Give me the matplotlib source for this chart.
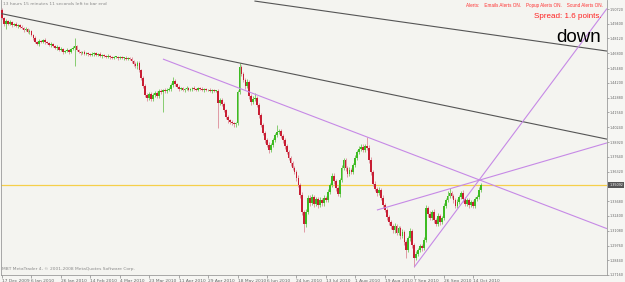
import numpy as np
import matplotlib
matplotlib.use("Agg")
import matplotlib.pyplot as plt
import matplotlib.transforms as mtransforms

# daily closes (bar 0 = 17 Dec 2009)
first_open = 1.5063
closes = [
    1.4992, 1.4939, 1.4966, 1.4939, 1.4957, 1.4930, 1.4939, 1.4922, 1.4930, 1.4913,
    1.4904, 1.4886, 1.4895, 1.4868, 1.4877, 1.4842, 1.4815, 1.4780, 1.4762, 1.4789,
    1.4780, 1.4798, 1.4780, 1.4771, 1.4753, 1.4762, 1.4744, 1.4727, 1.4735, 1.4709,
    1.4718, 1.4691, 1.4700, 1.4709, 1.4691, 1.4718, 1.4727, 1.4744, 1.4709, 1.4691,
    1.4683, 1.4691, 1.4674, 1.4683, 1.4674, 1.4665, 1.4674, 1.4683, 1.4665, 1.4674,
    1.4656, 1.4665, 1.4656, 1.4647, 1.4656, 1.4647, 1.4638, 1.4647, 1.4647, 1.4638,
    1.4647, 1.4638, 1.4638, 1.4629, 1.4638, 1.4629, 1.4611, 1.4585, 1.4567, 1.4594,
    1.4532, 1.4461, 1.4390, 1.4310, 1.4284, 1.4319, 1.4275, 1.4310, 1.4328, 1.4301,
    1.4346, 1.4337, 1.4354, 1.4346, 1.4354, 1.4363, 1.4399, 1.4434, 1.4408, 1.4381,
    1.4363, 1.4372, 1.4354, 1.4363, 1.4372, 1.4354, 1.4363, 1.4372, 1.4363, 1.4354,
    1.4372, 1.4363, 1.4354, 1.4363, 1.4354, 1.4354, 1.4346, 1.4354, 1.4346, 1.4346,
    1.4239, 1.4266, 1.4231, 1.4177, 1.4116, 1.4089, 1.4071, 1.4062, 1.4053, 1.4062,
    1.4337, 1.4558, 1.4497, 1.4443, 1.4390, 1.4425, 1.4301, 1.4248, 1.4275, 1.4284,
    1.4222, 1.4133, 1.4045, 1.3974, 1.3911, 1.3867, 1.3823, 1.3867, 1.3911, 1.3956,
    1.3982, 1.3991, 1.3947, 1.3911, 1.3858, 1.3805, 1.3752, 1.3708, 1.3663, 1.3628,
    1.3575, 1.3513, 1.3424, 1.3274, 1.3168, 1.3274, 1.3398, 1.3353, 1.3407, 1.3345,
    1.3389, 1.3336, 1.3380, 1.3353, 1.3398, 1.3380, 1.3451, 1.3513, 1.3593, 1.3548,
    1.3486, 1.3433, 1.3557, 1.3663, 1.3734, 1.3663, 1.3610, 1.3646, 1.3628, 1.3690,
    1.3752, 1.3805, 1.3832, 1.3850, 1.3823, 1.3858, 1.3841, 1.3734, 1.3628, 1.3522,
    1.3478, 1.3442, 1.3469, 1.3398, 1.3336, 1.3291, 1.3229, 1.3185, 1.3150, 1.3114,
    1.3150, 1.3088, 1.3132, 1.3061, 1.3097, 1.3008, 1.2937, 1.3043, 1.3106, 1.2981,
    1.2866, 1.2902, 1.2937, 1.2972, 1.2955, 1.3026, 1.3309, 1.3256, 1.3221, 1.3274,
    1.3203, 1.3168, 1.3238, 1.3185, 1.3221, 1.3327, 1.3380, 1.3416, 1.3442, 1.3416,
    1.3380, 1.3327, 1.3362, 1.3407, 1.3442, 1.3389, 1.3345, 1.3380, 1.3336, 1.3362,
    1.3327, 1.3389, 1.3407, 1.3469, 1.3509,
]

# upper / lower shadow lengths in pips
wick_up = [
    18, 10, 15, 12, 14, 10, 12, 15, 10, 12, 18, 12, 15, 10, 14, 12, 10, 15, 12, 14,
    12, 10, 15, 12, 10, 14, 12, 10, 15, 12, 14, 10, 12, 18, 12, 10, 15, 71, 12, 10,
    12, 10, 14, 10, 12, 10, 14, 12, 10, 12, 14, 10, 12, 10, 14, 12, 10, 12, 10, 12,
    10, 12, 10, 14, 10, 12, 15, 12, 18, 20, 15, 12, 14, 18, 15, 20, 18, 22, 15, 20,
    18, 15, 12, 15, 14, 18, 20, 36, 15, 12, 14, 10, 12, 10, 14, 12, 10, 12, 14, 10,
    12, 10, 14, 10, 12, 10, 14, 12, 10, 12, 15, 20, 15, 18, 12, 15, 12, 14, 10, 12,
    15, 36, 20, 18, 22, 25, 18, 20, 25, 44, 20, 18, 22, 20, 18, 22, 25, 20, 18, 22,
    63, 20, 22, 18, 20, 18, 22, 20, 18, 22, 20, 25, 22, 25, 20, 25, 28, 22, 25, 20,
    22, 18, 25, 20, 22, 18, 25, 20, 22, 25, 20, 18, 22, 25, 20, 22, 18, 25, 20, 22,
    25, 20, 28, 22, 25, 20, 80, 22, 25, 20, 22, 18, 25, 20, 22, 18, 20, 22, 18, 20,
    22, 18, 20, 22, 25, 20, 18, 22, 25, 18, 20, 22, 18, 20, 22, 25, 28, 22, 25, 20,
    22, 20, 25, 22, 20, 25, 22, 44, 40, 22, 20, 22, 25, 20, 22, 25, 20, 22, 18, 20,
    22, 20, 18, 25, 20,
]
wick_dn = [
    12, 15, 40, 12, 10, 14, 12, 10, 15, 12, 10, 14, 12, 10, 15, 12, 14, 10, 12, 15,
    10, 12, 14, 10, 12, 15, 10, 12, 14, 10, 12, 15, 10, 12, 14, 10, 12, 160, 12, 10,
    14, 12, 10, 12, 15, 10, 12, 14, 10, 12, 10, 14, 12, 10, 12, 14, 10, 12, 10, 14,
    12, 10, 14, 10, 12, 10, 15, 18, 20, 25, 18, 20, 22, 18, 25, 20, 18, 22, 20, 18,
    20, 22, 177, 18, 15, 12, 14, 15, 18, 12, 14, 10, 12, 14, 10, 12, 10, 14, 12, 10,
    12, 10, 12, 14, 10, 12, 10, 14, 12, 10, 221, 20, 22, 18, 20, 25, 22, 20, 25, 22,
    20, 18, 22, 20, 25, 20, 22, 25, 20, 18, 22, 25, 20, 22, 25, 20, 28, 22, 18, 20,
    22, 18, 20, 22, 25, 20, 22, 25, 20, 22, 25, 20, 28, 25, 71, 30, 22, 25, 20, 28,
    22, 25, 20, 22, 25, 20, 22, 18, 20, 22, 25, 20, 22, 18, 20, 25, 22, 20, 18, 22,
    20, 22, 18, 20, 22, 20, 18, 22, 25, 20, 22, 25, 20, 22, 25, 20, 22, 25, 28, 22,
    25, 22, 20, 25, 22, 28, 71, 20, 22, 25, 80, 22, 20, 22, 25, 20, 22, 25, 20, 22,
    25, 22, 20, 25, 22, 20, 22, 18, 20, 22, 25, 20, 22, 18, 20, 25, 22, 20, 25, 22,
    20, 22, 18, 20, 22,
]

date_labels = ['17 Dec 2009', '6 Jan 2010', '26 Jan 2010', '14 Feb 2010', '4 Mar 2010',
               '23 Mar 2010', '11 Apr 2010', '29 Apr 2010', '18 May 2010', '6 Jun 2010',
               '24 Jun 2010', '13 Jul 2010', '1 Aug 2010', '19 Aug 2010', '7 Sep 2010',
               '26 Sep 2010', '14 Oct 2010']
bars_per_label = 15
price_ticks = [1.50720, 1.49400, 1.48120, 1.46800, 1.45480, 1.44200, 1.42880, 1.41560,
               1.40240, 1.38920, 1.37640, 1.36320, 1.33680, 1.32400, 1.31080, 1.29760,
               1.28440, 1.27160]
current_price = 1.35092

# trend lines: (bar, price) anchors, drawn from first anchor to the right edge
black_lines = [((-0.5, 1.5032), (121, 1.4594)),
               ((128.6, 1.5143), (308, 1.4700))]
purple_lines = [((82, 1.4629), (186, 1.3938)),
                ((191, 1.3291), (308, 1.3885)),
                ((210, 1.2786), (308, 1.5072))]

x_max = 308.2
y_min, y_max = 1.27155, 1.5152

closes = np.array(closes)
opens = np.concatenate([[first_open], closes[:-1]])
highs = np.maximum(opens, closes) + np.array(wick_up) * 0.0001
lows = np.minimum(opens, closes) - np.array(wick_dn) * 0.0001
x = np.arange(len(closes))
up = closes >= opens

fig = plt.figure(figsize=(6.25, 2.82), dpi=100, facecolor='#f6f6f3')
ax = fig.add_axes([1 / 625, 7 / 282, 606 / 625, 275 / 282], facecolor='#f4f4f0')

green, red = '#3dbb22', '#c81e34'
ax.vlines(x[up], lows[up], highs[up], color='#86cc70', lw=0.7, zorder=2)
ax.vlines(x[~up], lows[~up], highs[~up], color='#e09aa4', lw=0.7, zorder=2)
body = np.maximum(np.abs(closes - opens), 0.0005)
ax.bar(x[up], body[up], bottom=opens[up], width=0.9, color=green, lw=0, zorder=3)
ax.bar(x[~up], body[~up], bottom=closes[~up], width=0.9, color=red, lw=0, zorder=3)


def ray(p1, p2, color):
    slope = (p2[1] - p1[1]) / (p2[0] - p1[0])
    ax.plot([p1[0], x_max], [p1[1], p1[1] + slope * (x_max - p1[0])],
            color=color, lw=0.8, zorder=4, solid_capstyle='butt')


for p1, p2 in black_lines:
    ray(p1, p2, '#555555')
for p1, p2 in purple_lines:
    ray(p1, p2, '#c689e6')

ax.axhline(current_price, color='#f5cf4a', lw=0.9, zorder=1)

ax.set_xlim(-0.5, x_max)
ax.set_ylim(y_min, y_max)

ax.yaxis.tick_right()
ax.set_yticks(price_ticks)
ax.set_yticklabels([f'{p:.5f}' for p in price_ticks])
ax.set_xticks(np.arange(len(date_labels)) * bars_per_label)
ax.set_xticklabels(date_labels)
for lab in ax.get_xticklabels():
    lab.set_horizontalalignment('left')
ax.tick_params(axis='x', labelsize=3.2, length=2, width=0.5, pad=1,
               colors='#888888', labelcolor='#666666')
ax.tick_params(axis='y', labelsize=2.45, length=1.5, width=0.5, pad=0.6,
               colors='#888888', labelcolor='#666666')
for side in ['right', 'bottom', 'left']:
    ax.spines[side].set_color('#9a9a9a')
    ax.spines[side].set_linewidth(0.6)
ax.spines['top'].set_visible(False)

trans = mtransforms.blended_transform_factory(ax.transAxes, ax.transData)
ax.text(1.0035, current_price, '1.35092', transform=trans, fontsize=2.45,
        color='white', va='center', ha='left', clip_on=False, zorder=6,
        bbox=dict(boxstyle='square,pad=0.3', fc='#555555', ec='none'))


def px(xp, yp):
    return xp / 625, 1 - yp / 282


fig.text(*px(3, 4), '13 hours 15 minutes 11 seconds left to bar end',
         fontsize=3.2, color='#8a8a8a', va='center', ha='left')
fig.text(*px(603, 6), 'Alerts:    Emails Alerts ON.    Popup Alerts ON.    Sound Alerts ON.',
         fontsize=3.3, color='#ff3030', va='center', ha='right', family='Liberation Sans')
fig.text(*px(602, 17), 'Spread: 1.6 points.', fontsize=5.8, color='#ff2020',
         va='center', ha='right', family='Liberation Sans')
fig.text(*px(601, 37), 'down', fontsize=13.5, color='black',
         va='center', ha='right', family='Liberation Sans')
fig.text(*px(2, 269), 'MBT MetaTrader 4, \u00a9 2001-2008 MetaQuotes Software Corp.',
         fontsize=3.2, color='#8a8a8a', va='center', ha='left')

fig.savefig('out.png', dpi=100, facecolor=fig.get_facecolor())
